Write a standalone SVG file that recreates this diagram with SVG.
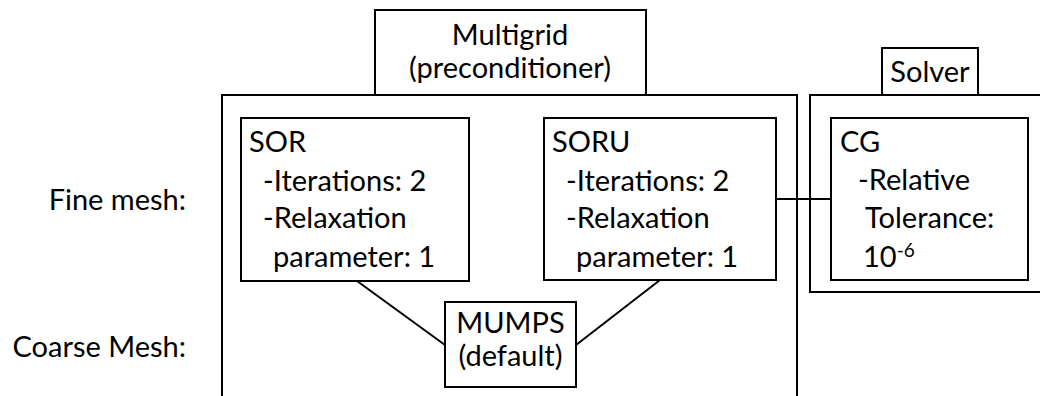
<svg xmlns="http://www.w3.org/2000/svg" width="1040" height="396" viewBox="0 0 1040 396">
  <style>
    .box { fill: none; stroke: #000; stroke-width: 2; }
    .solid { fill: #fff; stroke: #000; stroke-width: 2; }
    .link { stroke: #000; stroke-width: 2; fill: none; }
    text { font-family: "Lato", "Open Sans", sans-serif; font-size: 29px; fill: #000; }
    .mid { text-anchor: middle; }
    .end { text-anchor: end; }
    .sup { font-size: 19px; }
  </style>
  <rect width="1040" height="396" fill="#fff"/>

  <!-- row labels -->
  <g id="row-labels">
    <text class="end" x="186" y="210">Fine mesh:</text>
    <text class="end" x="186" y="357">Coarse Mesh:</text>
  </g>

  <!-- multigrid preconditioner container -->
  <g id="multigrid">
    <rect class="box" x="375" y="10" width="271" height="85"/>
    <rect class="box" x="222" y="95" width="575" height="320"/>
    <text class="mid" x="510" y="45">Multigrid</text>
    <text class="mid" x="510" y="78">(preconditioner)</text>
  </g>

  <!-- solver container -->
  <g id="solver">
    <rect class="box" x="882" y="48" width="96" height="47"/>
    <rect class="box" x="810" y="95" width="250" height="197"/>
    <text class="mid" x="930" y="82">Solver</text>
  </g>

  <!-- connectors -->
  <g id="connectors">
    <line class="link" x1="776" y1="199" x2="831" y2="199"/>
    <line class="link" x1="357" y1="281" x2="445" y2="345"/>
    <line class="link" x1="576" y1="345" x2="660" y2="280"/>
  </g>

  <g id="sor">
    <rect class="solid" x="241" y="118" width="228" height="163"/>
    <text x="249" y="152">SOR</text>
    <text x="263" y="191">-Iterations: 2</text>
    <text x="263" y="228">-Relaxation</text>
    <text x="273" y="267">parameter: 1</text>
  </g>

  <g id="soru">
    <rect class="solid" x="544" y="118" width="232" height="162"/>
    <text x="552" y="152">SORU</text>
    <text x="566" y="191">-Iterations: 2</text>
    <text x="566" y="228">-Relaxation</text>
    <text x="576" y="267">parameter: 1</text>
  </g>

  <g id="cg">
    <rect class="solid" x="831" y="118" width="197" height="162"/>
    <text x="840" y="152">CG</text>
    <text x="858" y="190">-Relative</text>
    <text x="865" y="228">Tolerance:</text>
    <text x="863" y="267">10<tspan class="sup" dy="-10">-6</tspan></text>
  </g>

  <g id="mumps">
    <rect class="solid" x="445" y="302" width="131" height="85"/>
    <text class="mid" x="510.5" y="333">MUMPS</text>
    <text class="mid" x="510.5" y="366">(default)</text>
  </g>
</svg>
